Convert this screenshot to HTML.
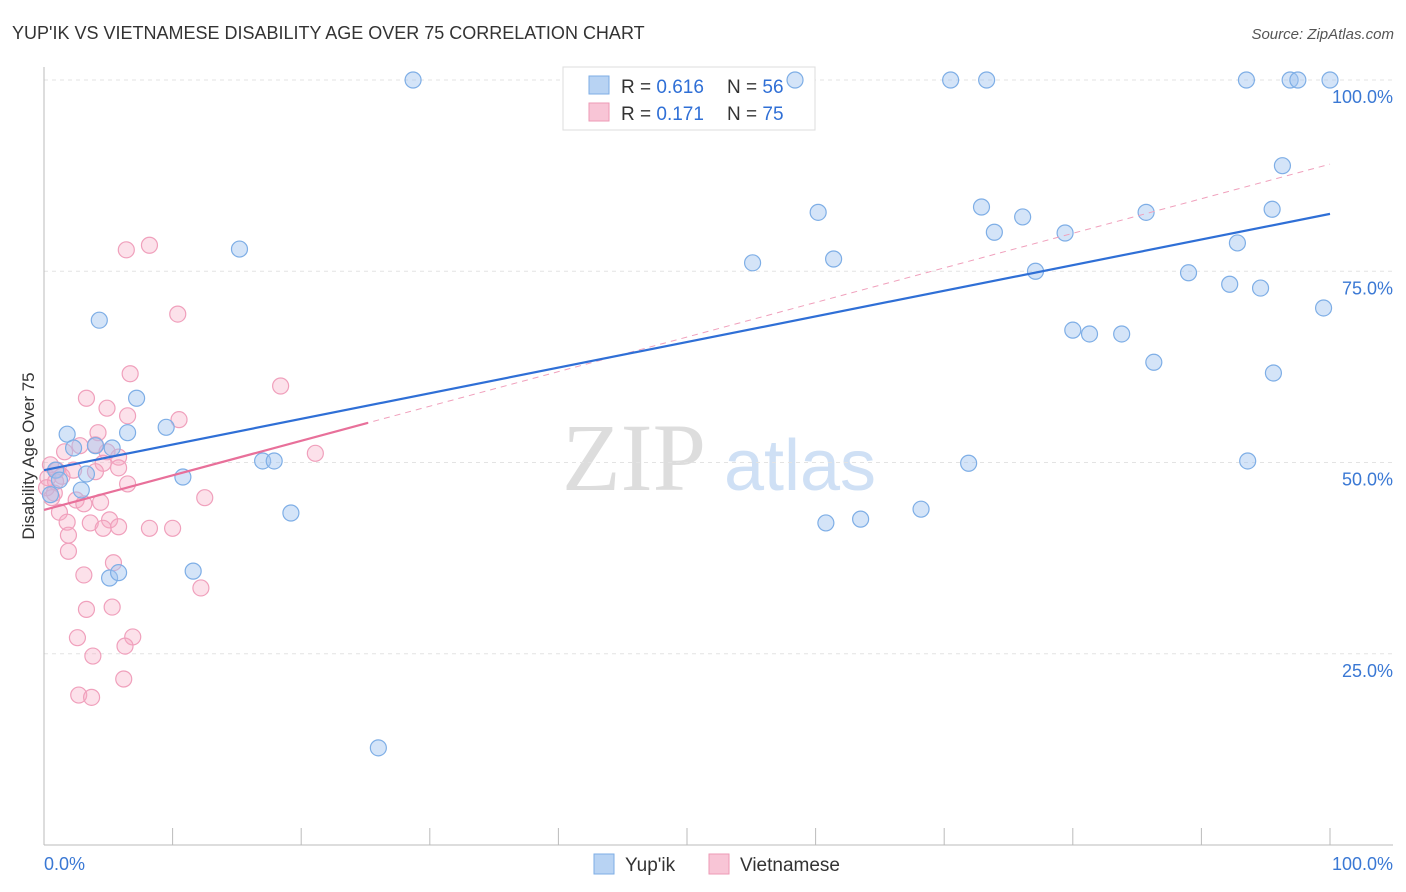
<!DOCTYPE html>
<html><head><meta charset="utf-8"><style>
body{margin:0;background:#fff;font-family:"Liberation Sans",sans-serif}
svg{display:block}
</style></head><body>
<svg id="chart" width="1406" height="892">
<text x="12" y="39" font-size="18" fill="#333">YUP'IK VS VIETNAMESE DISABILITY AGE OVER 75 CORRELATION CHART</text>
<text x="1394" y="39" font-size="15" fill="#555" font-style="italic" text-anchor="end">Source: ZipAtlas.com</text>
<g><text x="634" y="490" font-size="96" font-family="Liberation Serif,serif" fill="#ddd" text-anchor="middle">ZIP</text><text x="800" y="490" font-size="72" fill="#cfe0f5" text-anchor="middle">atlas</text></g>
<g id="grid"></g><g id="axes"></g>
<g>
<rect x="563" y="67" width="252" height="63" fill="#fff" stroke="#ddd"/>
<rect x="589" y="76" width="20" height="18" fill="#b8d3f3" stroke="#7eaee6"/>
<rect x="589" y="103" width="20" height="18" fill="#f8c5d6" stroke="#ee9ab6"/>
<text x="621" y="93" font-size="19" fill="#333">R = <tspan fill="#2f6fd6">0.616</tspan></text>
<text x="727" y="93" font-size="19" fill="#333">N = <tspan fill="#2f6fd6">56</tspan></text>
<text x="621" y="120" font-size="19" fill="#333">R = <tspan fill="#2f6fd6"> 0.171</tspan></text>
<text x="727" y="120" font-size="19" fill="#333">N = <tspan fill="#2f6fd6">75</tspan></text>
</g>
<g id="marks"></g>
<text transform="translate(34,456) rotate(-90)" font-size="17" fill="#333" text-anchor="middle">Disability Age Over 75</text>
<g>
<rect x="594" y="854" width="20" height="20" fill="#b8d3f3" stroke="#7eaee6"/>
<text x="625" y="871" font-size="19" fill="#333">Yup'ik</text>
<rect x="709" y="854" width="20" height="20" fill="#f8c5d6" stroke="#ee9ab6"/>
<text x="740" y="871" font-size="19" fill="#333">Vietnamese</text>
</g>
</svg>
<script>
const yTicks=[25,50,75,100];
const yTickLabels=["25.0%","50.0%","75.0%","100.0%"];
const xTicks=[0,10,20,30,40,50,60,70,80,90,100];
const blueX=[28.7,58.4,70.5,73.3,93.5,96.9,97.5,100,96.3,95.5,60.2,72.9,76.1,85.7,73.9,79.4,92.8,15.2,55.1,61.4,77.1,89.0,92.2,94.6,99.5,4.3,80.0,81.3,83.8,86.3,95.6,7.2,9.5,1.8,6.5,4.0,5.3,2.3,3.3,10.8,17.0,17.9,71.9,93.6,2.9,19.2,60.8,63.5,68.2,11.6,5.1,5.8,26.0,0.9,0.5,1.2];
const blueY=[100,100,100,100,100,100,100,100,88.8,83.1,82.7,83.4,82.1,82.7,80.1,80.0,78.7,77.9,76.1,76.6,75.0,74.8,73.3,72.8,70.2,68.6,67.3,66.8,66.8,63.1,61.7,58.4,54.6,53.7,53.9,52.2,51.9,51.9,48.5,48.1,50.2,50.2,49.9,50.2,46.4,43.4,42.1,42.6,43.9,35.8,34.9,35.6,12.7,49.0,45.8,47.7];
const pinkX=[8.2,6.4,10.4,6.7,18.4,3.3,4.9,6.5,10.5,4.2,21.1,1.6,2.8,4.0,4.9,5.8,4.6,5.8,2.3,4.0,1.4,0.3,0.9,6.5,12.5,0.8,2.5,4.4,3.1,1.2,1.8,3.6,5.1,5.8,8.2,10.0,4.6,1.9,1.9,5.4,3.1,12.2,3.3,5.3,2.6,6.9,6.3,3.8,6.2,2.7,3.7,0.5,1.0,0.2,0.6];
const pinkY=[78.4,77.8,69.4,61.6,60.0,58.4,57.1,56.1,55.6,53.9,51.2,51.4,52.2,52.3,51.4,50.7,49.9,49.3,49.0,48.8,48.2,48.0,47.5,47.2,45.4,46.0,45.1,44.8,44.6,43.5,42.2,42.1,42.5,41.6,41.4,41.4,41.4,40.5,38.4,36.9,35.3,33.6,30.8,31.1,27.1,27.2,26.0,24.7,21.7,19.6,19.3,49.7,49.0,46.7,45.4];
const blueTrend=[49.0,82.5];
const pinkTrend=[43.8,89.0];
const pinkSolidEnd=25.2;
const NS="http://www.w3.org/2000/svg";
const X=v=>44+v*12.86, Y=v=>845-v*7.65;
function mk(t,a,p){const e=document.createElementNS(NS,t);for(const k in a)e.setAttribute(k,a[k]);p.appendChild(e);return e;}
const grid=document.getElementById('grid'),axes=document.getElementById('axes'),marks=document.getElementById('marks');
yTicks.forEach((v,i)=>{
 const l=mk('line',{x1:44,x2:1393,y1:Y(v),y2:Y(v),stroke:'#e3e3e3','stroke-dasharray':'4,4'},grid);
 
 
 const t=mk('text',{x:1393,y:Y(v)+23,'font-size':18,fill:'#3a78d4','text-anchor':'end'},axes);
 t.textContent=yTickLabels[i];
 
 
});
const ax=mk('line',{x1:44,x2:44,y1:67,y2:845,stroke:'#bbb'},axes);


const bx=mk('line',{x1:44,x2:1393,y1:845,y2:845,stroke:'#bbb'},axes);


xTicks.forEach(v=>{
 const l=mk('line',{x1:X(v),x2:X(v),y1:828,y2:845,stroke:'#bbb'},axes);
 
 
});
[[44,'start','0.0%'],[1393,'end','100.0%']].forEach(d=>{
 const t=mk('text',{x:d[0],y:870,'font-size':18,fill:'#3a78d4','text-anchor':d[1]},axes);
 t.textContent=d[2];
 
 
});
pinkX.forEach((x,i)=>{
 const c=mk('circle',{cx:X(x),cy:Y(pinkY[i]),r:8,fill:'rgba(246,170,196,0.35)',stroke:'#f0a0bc','stroke-width':1.2},marks);
 
 
});
blueX.forEach((x,i)=>{
 const c=mk('circle',{cx:X(x),cy:Y(blueY[i]),r:8,fill:'rgba(160,196,240,0.45)',stroke:'#7eaee6','stroke-width':1.2},marks);
 
 
});
const pd=mk('line',{x1:X(0),y1:Y(pinkTrend[0]),x2:X(100),y2:Y(pinkTrend[1]),stroke:'#f0a0bc','stroke-width':1,'stroke-dasharray':'6,5'},marks);


const ps=mk('line',{x1:X(0),y1:Y(pinkTrend[0]),x2:X(pinkSolidEnd),y2:Y(pinkTrend[0]+(pinkTrend[1]-pinkTrend[0])*pinkSolidEnd/100),stroke:'#e8709a','stroke-width':2.2},marks);


const bl=mk('line',{x1:X(0),y1:Y(blueTrend[0]),x2:X(100),y2:Y(blueTrend[1]),stroke:'#2f6fd6','stroke-width':2.2},marks);


</script>
</body></html>
